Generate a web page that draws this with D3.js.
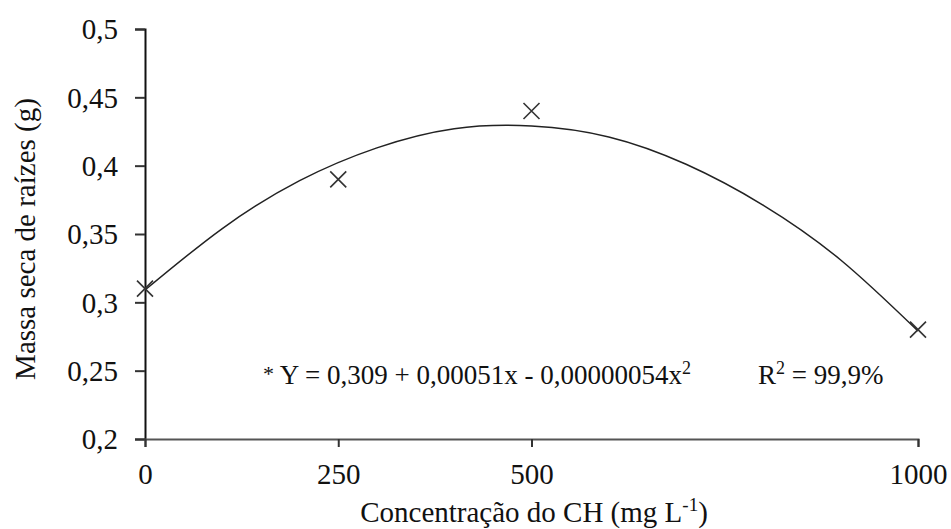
<!DOCTYPE html>
<html>
<head>
<meta charset="utf-8">
<script src="https://cdn.jsdelivr.net/npm/d3@7"></script>
<style>
  html, body { margin: 0; padding: 0; background: #fff; }
  svg { display: block; }
  text { font-family: "Liberation Serif", "Times New Roman", serif; fill: #111; }
</style>
</head>
<body>
<svg id="chart" width="951" height="529"></svg>
<script>
// ---- data ----
const concentrations = [0, 250, 500, 1000];
const rootMass = [0.31, 0.39, 0.44, 0.28];

// fitted curve
const curveX = [0, 100, 200, 300, 400, 500, 600, 700, 800, 900, 1000];
const curveY = [0.309, 0.354, 0.389, 0.413, 0.427, 0.429, 0.421, 0.401, 0.371, 0.331, 0.279];

const xTicks = [0, 250, 500, 1000];
const yTicks = [0.2, 0.25, 0.3, 0.35, 0.4, 0.45, 0.5];
const yTickLabels = ["0,2", "0,25", "0,3", "0,35", "0,4", "0,45", "0,5"];

const xTitle = "Concentração do CH (mg L";
const yTitle = "Massa seca de raízes (g)";

// ---- layout ----
const W = 951, H = 529;
const margin = { left: 145, right: 33, top: 29, bottom: 90 };

const svg = d3.select("#chart");
const x = d3.scaleLinear().domain([0, 1000]).range([margin.left, W - margin.right]);
const y = d3.scaleLinear().domain([0.2, 0.5]).range([H - margin.bottom, margin.top]);

// y axis
const yAxis = svg.append("g")
  .attr("transform", `translate(${margin.left},0)`)
  .call(d3.axisLeft(y).tickValues(yTicks)
    .tickFormat((d, i) => yTickLabels[i]).tickSizeOuter(0).tickSize(10).tickPadding(17));
yAxis.select(".domain").attr("stroke", "#111").attr("stroke-width", 2);
yAxis.selectAll(".tick line").attr("stroke", "#333").attr("stroke-width", 2);
yAxis.selectAll(".tick text")
  .style("font-family", '"Liberation Serif", "Times New Roman", serif')
  .style("font-size", "29px").attr("fill", "#111").attr("dy", "0.34em");

// x axis
const xAxis = svg.append("g")
  .attr("transform", `translate(0,${H - margin.bottom})`)
  .call(d3.axisBottom(x).tickValues(xTicks).tickFormat(d3.format("d"))
    .tickSizeOuter(0).tickSize(8).tickPadding(16));
xAxis.select(".domain").attr("stroke", "#555").attr("stroke-width", 2);
xAxis.selectAll(".tick line").attr("stroke", "#333").attr("stroke-width", 2);
xAxis.selectAll(".tick text")
  .style("font-family", '"Liberation Serif", "Times New Roman", serif')
  .style("font-size", "29px").attr("fill", "#111").attr("dy", "0.71em");

// fitted curve
const curveData = curveX.map((v, i) => [v, curveY[i]]);
svg.append("path")
  .datum(curveData)
  .attr("fill", "none")
  .attr("stroke", "#222")
  .attr("stroke-width", 1.5)
  .attr("d", d3.line().x(d => x(d[0])).y(d => y(d[1])).curve(d3.curveNatural));

// markers (x crosses)
const s = 8;
const pts = concentrations.map((c, i) => [c, rootMass[i]]);
const mk = svg.append("g").attr("stroke", "#333").attr("stroke-width", 1.6);
mk.selectAll("path.cross").data(pts).join("path")
  .attr("class", "cross")
  .attr("d", d => {
    const cx = x(d[0]), cy = y(d[1]);
    return `M${cx - s},${cy - s}L${cx + s},${cy + s}M${cx - s},${cy + s}L${cx + s},${cy - s}`;
  });

// axis titles
svg.append("text")
  .attr("transform", `translate(35,239) rotate(-90)`)
  .attr("text-anchor", "middle")
  .style("font-size", "29px")
  .text(yTitle);

const xt = svg.append("text")
  .attr("x", 534).attr("y", 522)
  .attr("text-anchor", "middle")
  .style("font-size", "29px");
xt.append("tspan").text(xTitle);
xt.append("tspan").attr("dy", -11).style("font-size", "19px").text("-1");
xt.append("tspan").attr("dy", 11).text(")");

// equation
const eq = svg.append("text").attr("x", 263).attr("y", 384).style("font-size", "27px");
eq.append("tspan").style("font-size", "22px").attr("dy", -3).text("*");
eq.append("tspan").attr("dy", 3).text(" Y = 0,309 + 0,00051x - 0,00000054x");
eq.append("tspan").attr("dy", -10).style("font-size", "18px").text("2");

const r2 = svg.append("text").attr("x", 758).attr("y", 384).style("font-size", "27px");
r2.append("tspan").text("R");
r2.append("tspan").attr("dy", -10).style("font-size", "18px").text("2");
r2.append("tspan").attr("dy", 10).text(" = 99,9%");
</script>
</body>
</html>
